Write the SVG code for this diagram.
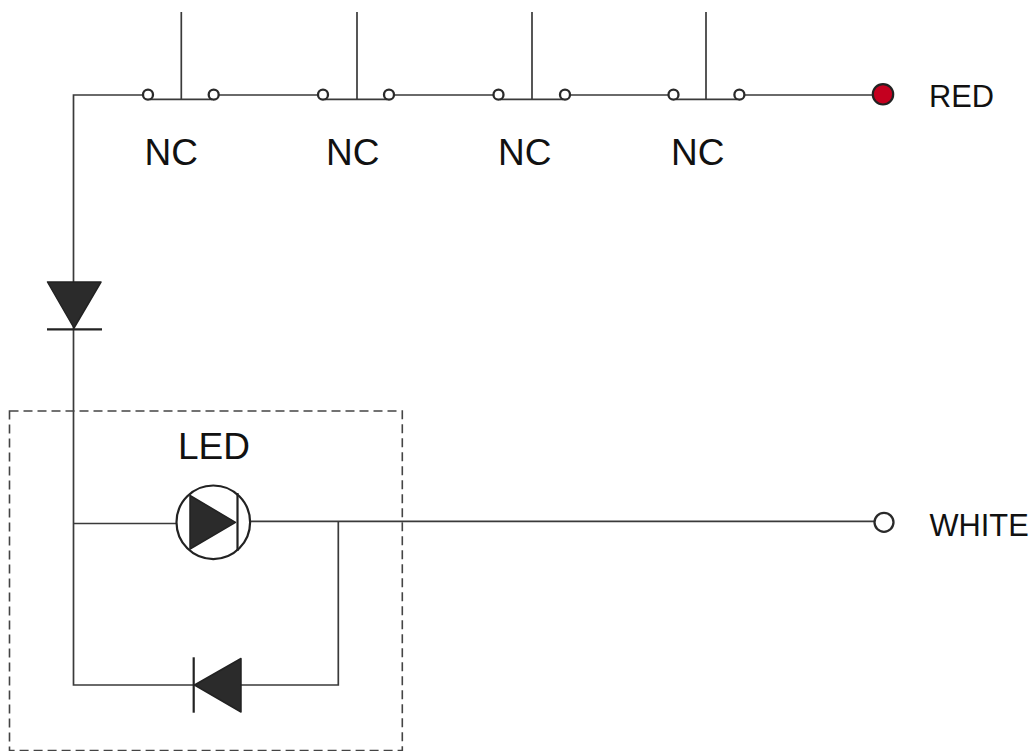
<svg xmlns="http://www.w3.org/2000/svg" width="1033" height="751" viewBox="0 0 1033 751">
<style>
.w{fill:none;stroke:#3a3a3a;stroke-width:1.7}
.c{fill:#fff;stroke:#2a2a2a;stroke-width:2.300}
.d{fill:#2b2b2b;stroke:#222;stroke-width:1.500;stroke-linejoin:round}
.b{fill:none;stroke:#222;stroke-width:2.200}
.t{font-family:"Liberation Sans",Arial,sans-serif;fill:#111}
.l{font-size:37px}
.s{font-size:30.800px}
</style>
<rect width="1033" height="751" fill="#fff"/>
<g id="connectors">
<path class="w" d="M143 95H73.500V685H338.300V521.300"/>
<path class="w" d="M219 95H318M394 95H493.500M570 95H669M744.500 95H873"/>
<path class="w" d="M73.500 523.500H177M251 521.300H875"/>
<path class="w" d="M181.300 12V99.300M150 99.300H212M357 12V99.300M325 99.300H387M532 12V99.300M500 99.300H563M706 12V99.300M676 99.300H737"/>
</g>
<g id="switch1"><circle class="c" cx="148" cy="94.700" r="5"/><circle class="c" cx="213.700" cy="94.700" r="5"/><text class="t l" x="144.500" y="165">NC</text></g>
<g id="switch2"><circle class="c" cx="323" cy="94.700" r="5"/><circle class="c" cx="389" cy="94.700" r="5"/><text class="t l" x="326" y="165">NC</text></g>
<g id="switch3"><circle class="c" cx="498.500" cy="94.700" r="5"/><circle class="c" cx="565" cy="94.700" r="5"/><text class="t l" x="498" y="165">NC</text></g>
<g id="switch4"><circle class="c" cx="673.500" cy="94.700" r="5"/><circle class="c" cx="739.400" cy="94.700" r="5"/><text class="t l" x="671" y="165">NC</text></g>
<g id="red-terminal"><circle cx="883" cy="94.300" r="10.200" fill="#c4001f" stroke="#222" stroke-width="2.200"/><text class="t s" x="929" y="107">RED</text></g>
<g id="white-terminal"><circle class="c" cx="884" cy="522.300" r="9.500"/><text class="t s" x="929.500" y="536">WHITE</text></g>
<g id="series-diode"><path class="d" d="M47.500 282H101L74 328Z"/><path class="b" d="M47 329.300H102"/></g>
<g id="led-box"><rect x="9.500" y="411" width="392.800" height="339.500" fill="none" stroke="#444" stroke-width="1.600" stroke-dasharray="9 5"/><text class="t l" x="178" y="459">LED</text></g>
<g id="led"><circle cx="213.300" cy="522.300" r="36.800" fill="#fff" stroke="#222" stroke-width="2.200"/><path class="d" d="M190 495.500V549L235.500 522.300Z"/><path class="b" d="M237.500 493V551"/></g>
<g id="parallel-diode"><path class="d" d="M194.500 685L241 658.500V712Z"/><path class="b" d="M193.700 657.300V712.700"/></g>
</svg>
